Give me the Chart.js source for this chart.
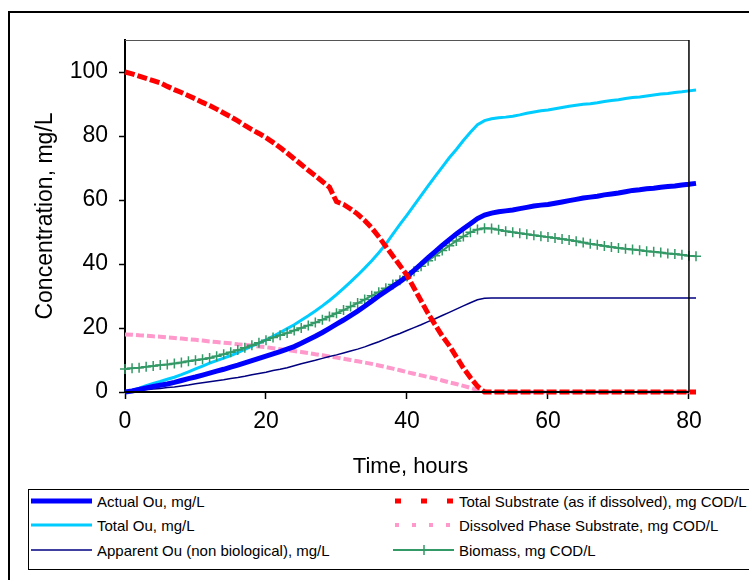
<!DOCTYPE html>
<html>
<head>
<meta charset="utf-8">
<script src="https://cdn.jsdelivr.net/npm/chart.js@4.4.1/dist/chart.umd.min.js"></script>
<style>
  html, body { margin: 0; padding: 0; background: #fff; }
  body { width: 749px; height: 580px; position: relative; overflow: hidden; font-family: "Liberation Sans", Arial, sans-serif; }
  #frame { position: absolute; left: 8px; top: 11px; width: 800px; height: 700px; border: 2px solid #000; }
  #chart { position: absolute; left: 0; top: 0; }
  #legend { position: absolute; left: 28px; top: 489px; width: 800px; height: 79px; border: 1px solid #000; background: #fff; }
  .item { position: absolute; height: 20px; display: flex; align-items: center; font-size: 15px; color: #000; white-space: nowrap; }
  .item svg { margin-right: 4px; }
</style>
</head>
<body>
<div id="frame"></div>
<canvas id="chart" width="749" height="580"></canvas>
<div id="legend"></div>
<script>
// time axis (hours) and series
const hours = [0,1,2,3,4,5,6,7,8,9,10,11,12,13,14,15,16,17,18,19,20,21,22,23,24,25,26,27,28,29,
  30,31,32,33,34,35,36,37,38,39,40,41,42,43,44,45,46,47,48,49,50,51,52,53,54,55,56,57,58,59,
  60,61,62,63,64,65,66,67,68,69,70,71,72,73,74,75,76,77,78,79,80,81];

const actualOu = [0,0.3,0.8,1.3,1.7,2.1,2.5,3,3.6,4.2,
  4.7,5.3,5.9,6.5,7.1,7.8,8.4,9.1,9.8,10.5,
  11.2,11.9,12.6,13.4,14.2,15.2,16.3,17.4,18.6,19.9,
  21.2,22.5,23.9,25.3,26.8,28.4,30,31.5,33,34.5,
  36.1,38,40,42,43.9,45.8,47.6,49.4,51,52.6,
  54.2,55.3,55.9,56.3,56.6,56.9,57.3,57.7,58.1,58.4,
  58.6,59,59.4,59.8,60.2,60.6,60.9,61.2,61.6,61.9,
  62.2,62.6,63,63.2,63.5,63.7,64,64.2,64.4,64.7,
  64.9,65.2];

const totalOu = [0,0.5,1.2,2,2.7,3.3,4,4.6,5.4,6.3,
  7.2,8.1,9,9.8,10.6,11.4,12.3,13.3,14.3,15.3,
  16.3,17.4,18.6,19.8,21,22.4,23.8,25.3,26.9,28.6,
  30.4,32.4,34.4,36.5,38.7,41,43.5,46.2,49.3,52.4,
  55.3,58.3,61.4,64.4,67.4,70.3,73.2,75.8,78.6,81.2,
  83.5,84.8,85.4,85.7,85.9,86.2,86.6,87.1,87.5,87.9,
  88.1,88.5,88.9,89.3,89.6,89.9,90.1,90.4,90.8,91.1,
  91.3,91.7,92,92.2,92.5,92.8,93.1,93.3,93.6,93.8,
  94.1,94.4];

const apparentOu = [0,0.2,0.4,0.7,0.9,1.1,1.4,1.6,1.9,2.2,
  2.6,2.9,3.2,3.5,3.8,4.2,4.5,4.9,5.4,5.8,
  6.2,6.7,7.1,7.6,8.2,8.8,9.4,9.9,10.5,11.1,
  11.6,12.2,12.8,13.4,14.1,14.9,15.7,16.6,17.5,18.3,
  19.2,20.1,21,22,22.9,23.9,24.9,25.9,26.9,27.9,
  28.8,29.3,29.4,29.4,29.4,29.4,29.4,29.4,29.4,29.4,
  29.4,29.4,29.4,29.4,29.4,29.4,29.4,29.4,29.4,29.4,
  29.4,29.4,29.4,29.4,29.4,29.4,29.4,29.4,29.4,29.4,
  29.4,29.4];

const totalSubstrate = [100,99.4,98.7,98,97.3,96.6,95.5,94.5,93.6,92.6,
  91.6,90.5,89.5,88.4,87.2,86,84.7,83.3,82,80.8,
  79.5,78,76.4,74.7,72.9,71.1,69.3,67.6,65.8,64,
  59.5,58.6,57.2,55.6,53.6,51.3,48.5,45.5,42.5,39.5,
  36.5,32.5,28.5,24.5,21,17.5,14.5,11,7.5,4.5,
  1.8,0,0,0,0,0,0,0,0,0,
  0,0,0,0,0,0,0,0,0,0,
  0,0,0,0,0,0,0,0,0,0,
  0,0];

const dissolvedSubstrate = [18,17.9,17.7,17.6,17.4,17.3,17.1,16.9,16.7,16.5,
  16.3,16.1,15.8,15.6,15.4,15.2,14.9,14.7,14.5,14.2,
  14,13.7,13.4,13.1,12.8,12.5,12.2,11.8,11.5,11.1,
  10.8,10.4,10,9.6,9.2,8.8,8.3,7.8,7.3,6.8,
  6.2,5.7,5.2,4.7,4.2,3.6,3,2.5,1.9,1.3,
  0.6,0,0,0,0,0,0,0,0,0,
  0,0,0,0,0,0,0,0,0,0,
  0,0,0,0,0,0,0,0,0,0,
  0,0];

const biomass = [7.2,7.4,7.6,7.9,8.1,8.4,8.6,8.9,9.2,9.6,
  9.9,10.2,10.6,11.2,11.8,12.4,13.1,13.8,14.6,15.4,
  16.2,17,17.7,18.4,19.2,20,20.8,21.7,22.6,23.6,
  24.6,25.6,26.7,27.8,28.9,30.1,31.2,32.4,33.6,34.9,
  36.1,37.7,39.3,41,42.6,44.2,45.7,47.2,48.6,49.9,
  50.8,51.2,51.1,50.7,50.2,49.9,49.6,49.3,49,48.7,
  48.4,48.1,47.8,47.5,47.1,46.7,46.3,46,45.6,45.3,
  45,44.8,44.5,44.3,44,43.8,43.6,43.3,43.1,42.9,
  42.6,42.4];

const xTicks = [0, 20, 40, 60, 80];
const yTicks = [0, 20, 40, 60, 80, 100];
const X_END = 80; // the plot frame closes at 80 h, the runs go a little past it

const FONT = '"Liberation Sans", Arial, sans-serif';

// legend slots: col 0 = left column, col 1 = right column
const series = [
  { label: 'Actual Ou, mg/L', data: actualOu, color: '#0000ff', width: 5, dash: [], order: 1, col: 0, row: 0 },
  { label: 'Total Ou, mg/L', data: totalOu, color: '#00ccff', width: 3, dash: [], order: 3, col: 0, row: 1 },
  { label: 'Apparent Ou (non biological), mg/L', data: apparentOu, color: '#000080', width: 1.5, dash: [], order: 4, col: 0, row: 2 },
  { label: 'Total Substrate (as if dissolved), mg COD/L', data: totalSubstrate, color: '#ff0000', width: 5, dash: [10, 3], legendDash: '6,20', order: 0, col: 1, row: 0 },
  { label: 'Dissolved Phase Substrate, mg COD/L', data: dissolvedSubstrate, color: '#ff99cc', width: 4, dash: [8, 3], legendDash: '4,13', order: 5, col: 1, row: 1 },
  { label: 'Biomass, mg COD/L', data: biomass, color: '#339966', width: 2, dash: [], order: 2, col: 1, row: 2, cross: true }
];

const plotFrame = {
  id: 'plotFrame',
  afterDraw(chart) {
    const { ctx, chartArea: a } = chart;
    const xr = chart.scales.x.getPixelForValue(X_END);
    ctx.save();
    ctx.strokeStyle = '#555';
    ctx.lineWidth = 1;
    ctx.beginPath();
    ctx.moveTo(a.left, a.top + 0.5);
    ctx.lineTo(xr, a.top + 0.5);
    ctx.stroke();
    ctx.strokeStyle = '#000';
    ctx.lineWidth = 1.5;
    ctx.beginPath();
    ctx.moveTo(xr, a.top);
    ctx.lineTo(xr, a.bottom);
    ctx.stroke();
    ctx.lineWidth = 2;
    ctx.beginPath();
    ctx.moveTo(a.left, a.bottom);
    ctx.lineTo(xr, a.bottom);
    ctx.stroke();
    ctx.restore();
  }
};

new Chart(document.getElementById('chart'), {
  type: 'line',
  data: {
    labels: hours,
    datasets: series.map(s => ({
      label: s.label,
      data: s.data,
      borderColor: s.color,
      backgroundColor: s.color,
      borderWidth: s.width,
      borderDash: s.dash,
      borderCapStyle: 'butt',
      tension: 0,
      fill: false,
      clip: false,
      order: s.order,
      pointStyle: s.cross ? 'cross' : 'circle',
      pointRadius: s.cross ? 5 : 0,
      pointBorderWidth: 1.5,
      pointBorderColor: s.color
    }))
  },
  options: {
    responsive: false,
    animation: false,
    events: [],
    layout: { padding: { left: 0, right: 53, top: 40, bottom: 100 } },
    plugins: { legend: { display: false }, tooltip: { enabled: false } },
    scales: {
      x: {
        type: 'linear', min: 0, max: 81,
        afterBuildTicks: s => { s.ticks = xTicks.map(v => ({ value: v })); },
        afterFit: s => { s.height = 88; },
        ticks: { color: '#000', font: { family: FONT, size: 23 }, padding: 9, maxRotation: 0 },
        grid: { drawOnChartArea: false, drawTicks: true, tickLength: 7, color: '#000', tickWidth: 1.5 },
        border: { display: false },
        title: { display: true, text: 'Time, hours', color: '#000', font: { family: FONT, size: 22 }, padding: 0 }
      },
      y: {
        type: 'linear', min: 0, max: 110,
        afterBuildTicks: s => { s.ticks = yTicks.map(v => ({ value: v })); },
        afterFit: s => { s.width = 125; },
        ticks: { color: '#000', font: { family: FONT, size: 23 }, padding: 11 },
        grid: { drawOnChartArea: false, drawTicks: true, tickLength: 6, color: '#000', tickWidth: 1.5 },
        border: { color: '#000', width: 2 },
        title: { display: true, text: 'Concentration, mg/L', color: '#000', font: { family: FONT, size: 23 }, padding: { top: 32 } }
      }
    }
  },
  plugins: [plotFrame]
});

// legend built from the same series styles
const legend = document.getElementById('legend');
const colX = [2, 364];
const rowY = [1, 25, 50];
series.forEach(s => {
  const item = document.createElement('div');
  item.className = 'item';
  item.style.left = colX[s.col] + 'px';
  item.style.top = rowY[s.row] + 'px';
  const w = 62;
  let svg = `<svg width="${w}" height="20"><line x1="${s.legendDash ? 2 : 0}" y1="10" x2="${w - 1}" y2="10" stroke="${s.color}" stroke-width="${s.width}"`;
  if (s.legendDash) svg += ` stroke-dasharray="${s.legendDash}"`;
  svg += '/>';
  if (s.cross) svg += `<line x1="${w / 2}" y1="5" x2="${w / 2}" y2="15" stroke="${s.color}" stroke-width="1.5"/>`;
  svg += '</svg>';
  item.innerHTML = svg + `<span>${s.label}</span>`;
  legend.appendChild(item);
});
</script>
</body>
</html>
